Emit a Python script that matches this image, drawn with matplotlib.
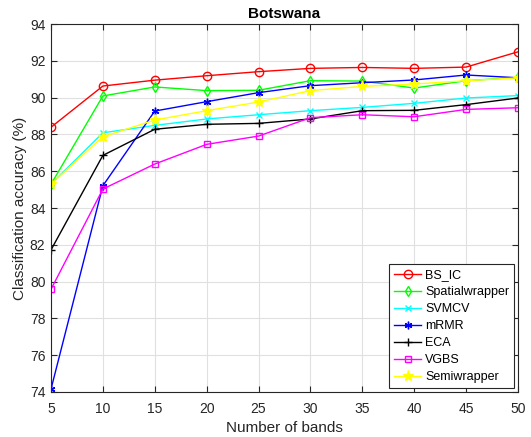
import matplotlib
matplotlib.use("Agg")
import matplotlib.pyplot as plt

plt.rcParams['font.family'] = ['Liberation Sans', 'DejaVu Sans']

bands = [5, 10, 15, 20, 25, 30, 35, 40, 45, 50]
bs_ic = [88.39, 90.63, 90.95, 91.19, 91.41, 91.59, 91.64, 91.59, 91.66, 92.49]
spatial = [85.29, 90.09, 90.58, 90.38, 90.40, 90.92, 90.90, 90.52, 90.92, 91.10]
svmcv = [85.30, 88.09, 88.49, 88.84, 89.07, 89.29, 89.47, 89.69, 89.98, 90.11]
mrmr = [74.15, 85.21, 89.27, 89.78, 90.27, 90.65, 90.81, 90.96, 91.23, 91.08]
eca = [81.72, 86.86, 88.28, 88.55, 88.60, 88.84, 89.29, 89.31, 89.62, 89.98]
vgbs = [79.58, 85.03, 86.39, 87.46, 87.91, 88.91, 89.07, 88.96, 89.36, 89.45]
semi = [85.30, 87.88, 88.78, 89.29, 89.76, 90.38, 90.61, 90.74, 90.92, 91.08]

names = ['BS_IC', 'Spatialwrapper', 'SVMCV', 'mRMR', 'ECA', 'VGBS', 'Semiwrapper']
series = [bs_ic, spatial, svmcv, mrmr, eca, vgbs, semi]
colors = ['#ff0000', '#00ff00', '#00ffff', '#0000ff', '#000000', '#ff00ff', '#ffff00']
asterisk = (6, 2, 0)
markers = ['o', 'd', 'x', asterisk, '+', 's', '*']
mfc = ['none', 'none', 'none', 'none', 'none', 'none', '#ffff00']
msizes = [6, 5.5, 4.5, 5.5, 5.5, 5, 8]

fig = plt.figure(figsize=(5.31, 4.37), dpi=100)
ax = fig.add_axes([0.096, 0.103, 0.8795, 0.842])

for vals, name, c, m, fc, ms in zip(series, names, colors, markers, mfc, msizes):
    ax.plot(bands, vals, color=c, marker=m, markerfacecolor=fc, markeredgecolor=c,
            markersize=ms, linewidth=1.0, label=name)

ax.set_xlim(5, 50)
ax.set_ylim(74, 94)
ax.set_xticks(bands)
ax.set_yticks(range(74, 95, 2))
ax.grid(True, color='#e0e0e0', linewidth=0.8)
ax.set_axisbelow(True)
ax.tick_params(direction='in', top=True, right=True, labelsize=10, colors='#262626', length=4)
ax.tick_params(axis='x', pad=7)
ax.tick_params(axis='y', pad=4)
for s in ax.spines.values():
    s.set_color('#262626')
    s.set_linewidth(0.8)
ax.set_xlabel('Number of bands', fontsize=11, color='#262626', labelpad=4)
ax.set_ylabel('Classification accuracy (%)', fontsize=11, color='#262626', labelpad=2)
ax.set_title('Botswana', fontsize=11, fontweight='bold', pad=4)

leg = ax.legend(loc='lower right', fontsize=9, frameon=True, fancybox=False,
                edgecolor='#262626', framealpha=1, handlelength=2.2,
                handletextpad=0.3, borderaxespad=0.3, labelspacing=0.4,
                borderpad=0.4)
leg.get_frame().set_linewidth(0.8)

fig.savefig('out.png', dpi=100)
